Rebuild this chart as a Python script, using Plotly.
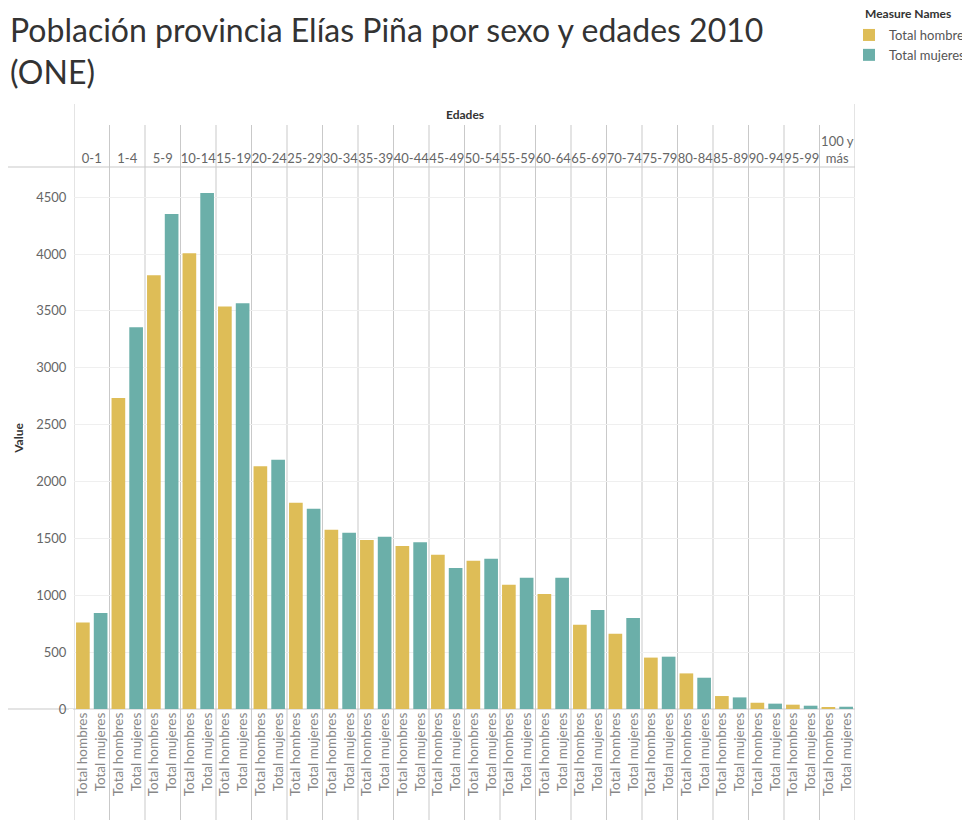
import plotly.graph_objects as go

# ---- data ----
age_groups = ["0-1", "1-4", "5-9", "10-14", "15-19", "20-24", "25-29", "30-34",
              "35-39", "40-44", "45-49", "50-54", "55-59", "60-64", "65-69",
              "70-74", "75-79", "80-84", "85-89", "90-94", "95-99", "100 y más"]
age_labels = ["0-1", "1-4", "5-9", "10-14", "15-19", "20-24", "25-29", "30-34",
              "35-39", "40-44", "45-49", "50-54", "55-59", "60-64", "65-69",
              "70-74", "75-79", "80-84", "85-89", "90-94", "95-99", "100 y<br>más"]
measures = ["Total hombres", "Total mujeres"]
hombres = [761, 2735, 3814, 4007, 3538, 2135, 1813, 1575, 1485, 1432, 1356,
           1303, 1092, 1010, 741, 662, 452, 313, 114, 55, 38, 11]
mujeres = [843, 3356, 4352, 4537, 3567, 2191, 1760, 1549, 1514, 1467, 1239,
           1321, 1154, 1154, 870, 800, 460, 275, 102, 47, 29, 20]
colors = ["#DEBD57", "#6BAFA9"]
y_ticks = [0, 500, 1000, 1500, 2000, 2500, 3000, 3500, 4000, 4500]

W, H = 970, 820
# page is offset by the 8px body margin
L, R, T, B = 66, 123, 159, 119
PLOT_LEFT_PAGE, PLOT_BASE_PAGE = 74, 709
plot_h = H - T - B
plot_w = W - L - R

def py(page_y):  # page pixel y -> paper y
    return (PLOT_BASE_PAGE - page_y) / plot_h

def px_(page_x):  # page pixel x -> paper x
    return (page_x - PLOT_LEFT_PAGE) / plot_w

fig = go.Figure()
for name, vals, col in zip(measures, [hombres, mujeres], colors):
    fig.add_trace(go.Bar(x=age_groups, y=vals, name=name, marker_color=col,
                         marker_line_width=0, xaxis="x", yaxis="y"))

# bottom axis: one category per bar
bar_cats = [f"{a}|{m}" for a in age_groups for m in measures]
bar_text = [m for a in age_groups for m in measures]
bar_vals = [v for pair in zip(hombres, mujeres) for v in pair]
fig.add_trace(go.Scatter(x=bar_cats, y=bar_vals, mode="markers",
                         marker=dict(opacity=0), hoverinfo="skip",
                         showlegend=False, xaxis="x2", yaxis="y"))

line_col = "#c9c9c9"
shapes = []
n = len(age_groups)
for i in range(n + 1):
    outer = i in (0, n)
    shapes.append(dict(type="line", xref="x", yref="paper",
                       x0=i - 0.5, x1=i - 0.5,
                       y0=py(830), y1=py(104 if outer else 125),
                       line=dict(color=line_col, width=1), layer="below"))
# top header line and baseline
for yy in [1, 0]:
    shapes.append(dict(type="line", xref="paper", yref="paper",
                       x0=px_(5), x1=1, y0=yy, y1=yy,
                       line=dict(color=line_col, width=1), layer="below"))

fig.update_layout(
    width=W, height=H,
    margin=dict(l=L, r=R, t=T, b=B, autoexpand=False),
    paper_bgcolor="white", plot_bgcolor="white",
    font=dict(family="Lato, Open Sans, sans-serif", color="#666"),
    barmode="group", bargap=0, bargroupgap=0.23,
    xaxis=dict(type="category", categoryorder="array", categoryarray=age_groups,
               tickvals=age_groups, ticktext=age_labels,
               side="top", range=[-0.5, n - 0.5], showgrid=False,
               ticks="", showline=False, zeroline=False,
               tickfont=dict(size=13, color="#666"), tickangle=0,
               automargin=False, fixedrange=True),
    xaxis2=dict(type="category", categoryorder="array", categoryarray=bar_cats,
                tickvals=bar_cats, ticktext=bar_text, overlaying="x",
                anchor="y", side="bottom", range=[-0.5, 2 * n - 0.5],
                showgrid=False, ticks="", showline=False, zeroline=False,
                tickangle=-90, tickfont=dict(size=13.5, color="#888"),
                automargin=False, fixedrange=True),
    yaxis=dict(range=[0, 4765], tickvals=y_ticks, showgrid=True,
               gridcolor="#efefef", gridwidth=1, zeroline=False,
               showline=False, ticks="outside", ticklen=4, tickcolor="white",
               tickfont=dict(size=13, color="#666"),
               title=dict(text="<b>Value</b>", font=dict(size=12, color="#333"),
                          standoff=10),
               automargin=False, fixedrange=True),
    legend=dict(x=px_(849), xanchor="left", y=py(20), yanchor="top",
                font=dict(size=13, color="#555"), tracegroupgap=0,
                itemwidth=30, itemsizing="constant", bgcolor="rgba(0,0,0,0)"),
    annotations=[
        dict(text="Población provincia Elías Piña por sexo y edades 2010<br>(ONE)",
             xref="paper", yref="paper", x=px_(8), y=py(8),
             xanchor="left", yanchor="top", align="left", showarrow=False,
             font=dict(size=32, color="#333", family="Lato, sans-serif")),
        dict(text="<b>Edades</b>", xref="paper", yref="paper",
             x=0.5, y=py(115), xanchor="center", yanchor="middle",
             showarrow=False, font=dict(size=12, color="#333")),
        dict(text="<b>Measure Names</b>", xref="paper", yref="paper",
             x=px_(863), y=py(14), xanchor="left", yanchor="middle",
             showarrow=False, font=dict(size=12, color="#333")),
    ],
    shapes=shapes,
)

fig.write_html("out.html")
